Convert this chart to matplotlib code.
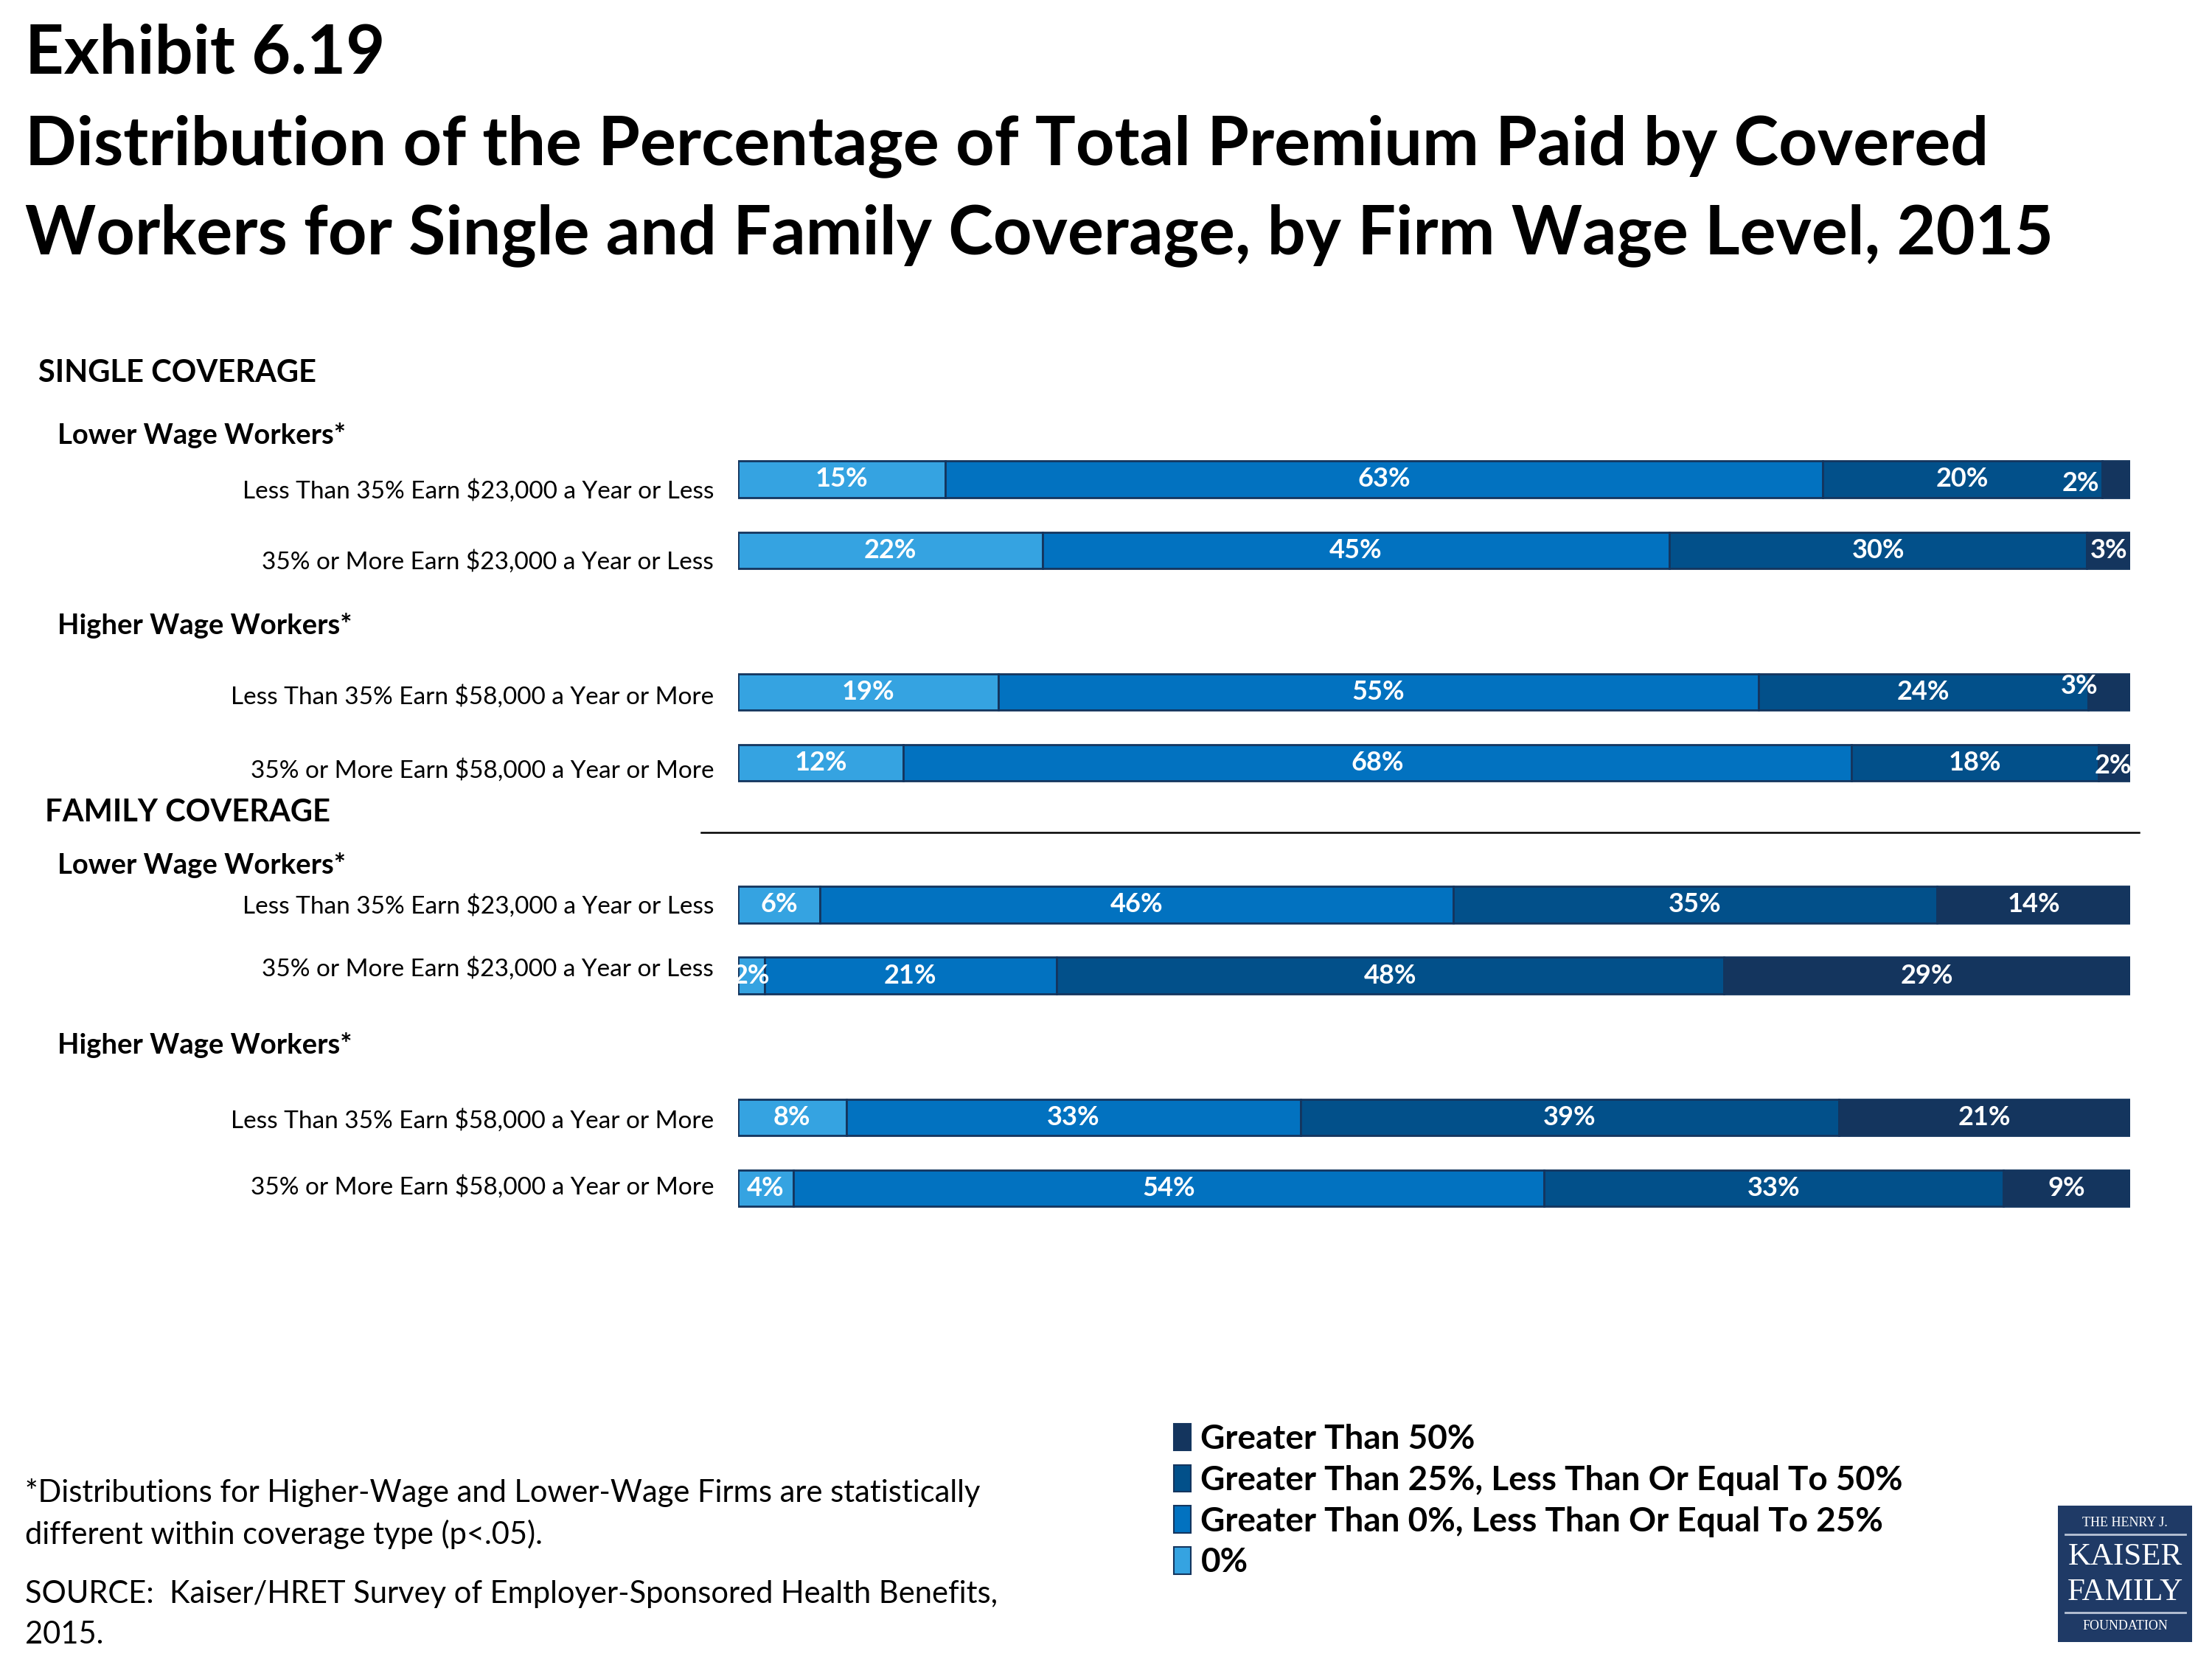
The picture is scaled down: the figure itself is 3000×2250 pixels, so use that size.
import matplotlib.pyplot as plt
from matplotlib.lines import Line2D
from matplotlib.patches import Rectangle, Patch

plt.rcParams['font.family'] = ['Lato', 'DejaVu Sans']

# ---- data -------------------------------------------------------------
row_labels = [
    'Less Than 35% Earn $23,000 a Year or Less',
    '35% or More Earn $23,000 a Year or Less',
    'Less Than 35% Earn $58,000 a Year or More',
    '35% or More Earn $58,000 a Year or More',
    'Less Than 35% Earn $23,000 a Year or Less',
    '35% or More Earn $23,000 a Year or Less',
    'Less Than 35% Earn $58,000 a Year or More',
    '35% or More Earn $58,000 a Year or More',
]
series_names = ['0%', 'Greater Than 0%, Less Than Or Equal To 25%',
                'Greater Than 25%, Less Than Or Equal To 50%', 'Greater Than 50%']
zero_pct = [14.9, 21.9, 18.7, 11.9, 5.9, 1.9, 7.8, 4.0]
upto_25 = [63.0, 45.0, 54.6, 68.1, 45.5, 21.0, 32.6, 53.9]
upto_50 = [20.1, 30.0, 23.7, 17.7, 34.7, 47.9, 38.7, 33.0]
over_50 = [2.0, 3.1, 3.0, 2.3, 14.0, 29.2, 20.9, 9.1]

colors = ['#35A3E1', '#0272C0', '#02508A', '#14355E']
edge = '#14355E'

# layout grid (picture measured on a 1568 x 1170 grid, then scaled)
W, H = 1568.0, 1170.0
row_y = [338, 388, 488, 538, 638, 688, 788, 838]
label_y = [346, 396, 491, 543, 639, 683, 790, 837]
# small nudges for the tiny end labels (dx, dy) in grid px
nudge = {(0, 3): (-25, 3), (2, 3): (-21, -4), (3, 3): (-1, 2)}


def fx(x):
    return x / W


def fy(y):
    return 1 - y / H


fig = plt.figure(figsize=(30, 22.5), dpi=100)

# titles
title_size = 66
fig.text(fx(18), fy(52), 'Exhibit 6.19', fontsize=title_size, fontweight='bold', va='baseline')
fig.text(fx(18), fy(116), 'Distribution of the Percentage of Total Premium Paid by Covered',
         fontsize=title_size, fontweight='bold', va='baseline')
fig.text(fx(18), fy(179), 'Workers for Single and Family Coverage, by Firm Wage Level, 2015',
         fontsize=title_size, fontweight='bold', va='baseline')

# bars
ax = fig.add_axes([fx(523), fy(870), (1510 - 523) / W, (870 - 300) / H])
ax.set_xlim(0, 100)
ax.set_ylim(870, 300)
ax.axis('off')

series = [zero_pct, upto_25, upto_50, over_50]
left = [0.0] * len(row_y)
for s, (vals, c, name) in enumerate(zip(series, colors, series_names)):
    ax.barh(row_y, vals, left=left, height=25.6, color=c, edgecolor=edge,
            linewidth=2, label=name)
    for r, v in enumerate(vals):
        dx, dy = nudge.get((r, s), (0, 0))
        ax.text(left[r] + v / 2 + dx * 100 / 987, row_y[r] + dy, f'{v:.0f}%',
                ha='center', va='center', color='white', fontsize=26, fontweight='bold')
    left = [l + v for l, v in zip(left, vals)]

# row labels
for lab, y in zip(row_labels, label_y):
    fig.text(fx(506), fy(y), lab, ha='right', va='center', fontsize=24)

# group headings
fig.text(fx(27), fy(263), 'SINGLE COVERAGE', va='center', fontsize=30, fontweight='bold')
fig.text(fx(32), fy(573), 'FAMILY COVERAGE', va='center', fontsize=30, fontweight='bold')
for y in [307, 610]:
    fig.text(fx(41), fy(y), 'Lower Wage Workers*', va='center', fontsize=27.5, fontweight='bold')
for y in [441, 737]:
    fig.text(fx(41), fy(y), 'Higher Wage Workers*', va='center', fontsize=27.5, fontweight='bold')

fig.add_artist(Line2D([fx(497), fx(1516)], [fy(587), fy(587)], color='black', lw=1.8))

# legend
handles = [Patch(facecolor=c, edgecolor=edge, linewidth=1.5) for c in colors][::-1]
fig.legend(handles, series_names[::-1], loc='upper left',
           bbox_to_anchor=(fx(820), fy(992)), frameon=False,
           prop={'size': 33, 'weight': 'bold'}, handlelength=0.5, handleheight=0.85,
           handletextpad=0.3, labelspacing=0.3, borderpad=0)

# footnotes
fn = 30
fig.text(fx(18), fy(1053), '*Distributions for Higher-Wage and Lower-Wage Firms are statistically',
         va='center', fontsize=fn)
fig.text(fx(18), fy(1082), 'different within coverage type (p<.05).', va='center', fontsize=fn)
fig.text(fx(18), fy(1124), 'SOURCE:  Kaiser/HRET Survey of Employer-Sponsored Health Benefits,',
         va='center', fontsize=fn)
fig.text(fx(18), fy(1153), '2015.', va='center', fontsize=fn)

# logo
fig.add_artist(Rectangle((fx(1459), fy(1158)), (1554 - 1459) / W, (1158 - 1062) / H,
                         transform=fig.transFigure, facecolor='#1F3A66', edgecolor='none'))
cx = fx(1506.5)
fig.text(cx, fy(1074), 'THE HENRY J.', ha='center', va='center', color='white',
         fontsize=13, family='Liberation Serif')
fig.add_artist(Line2D([fx(1464), fx(1549)], [fy(1082), fy(1082)], color='#B9C4D6', lw=2))
fig.text(cx, fy(1098), 'KAISER', ha='center', va='center', color='white',
         fontsize=31, family='Liberation Serif')
fig.text(cx, fy(1123), 'FAMILY', ha='center', va='center', color='white',
         fontsize=31, family='Liberation Serif')
fig.add_artist(Line2D([fx(1464), fx(1549)], [fy(1137), fy(1137)], color='#B9C4D6', lw=2))
fig.text(cx, fy(1147), 'FOUNDATION', ha='center', va='center', color='white',
         fontsize=13, family='Liberation Serif')

fig.savefig('out.png', dpi=100)
